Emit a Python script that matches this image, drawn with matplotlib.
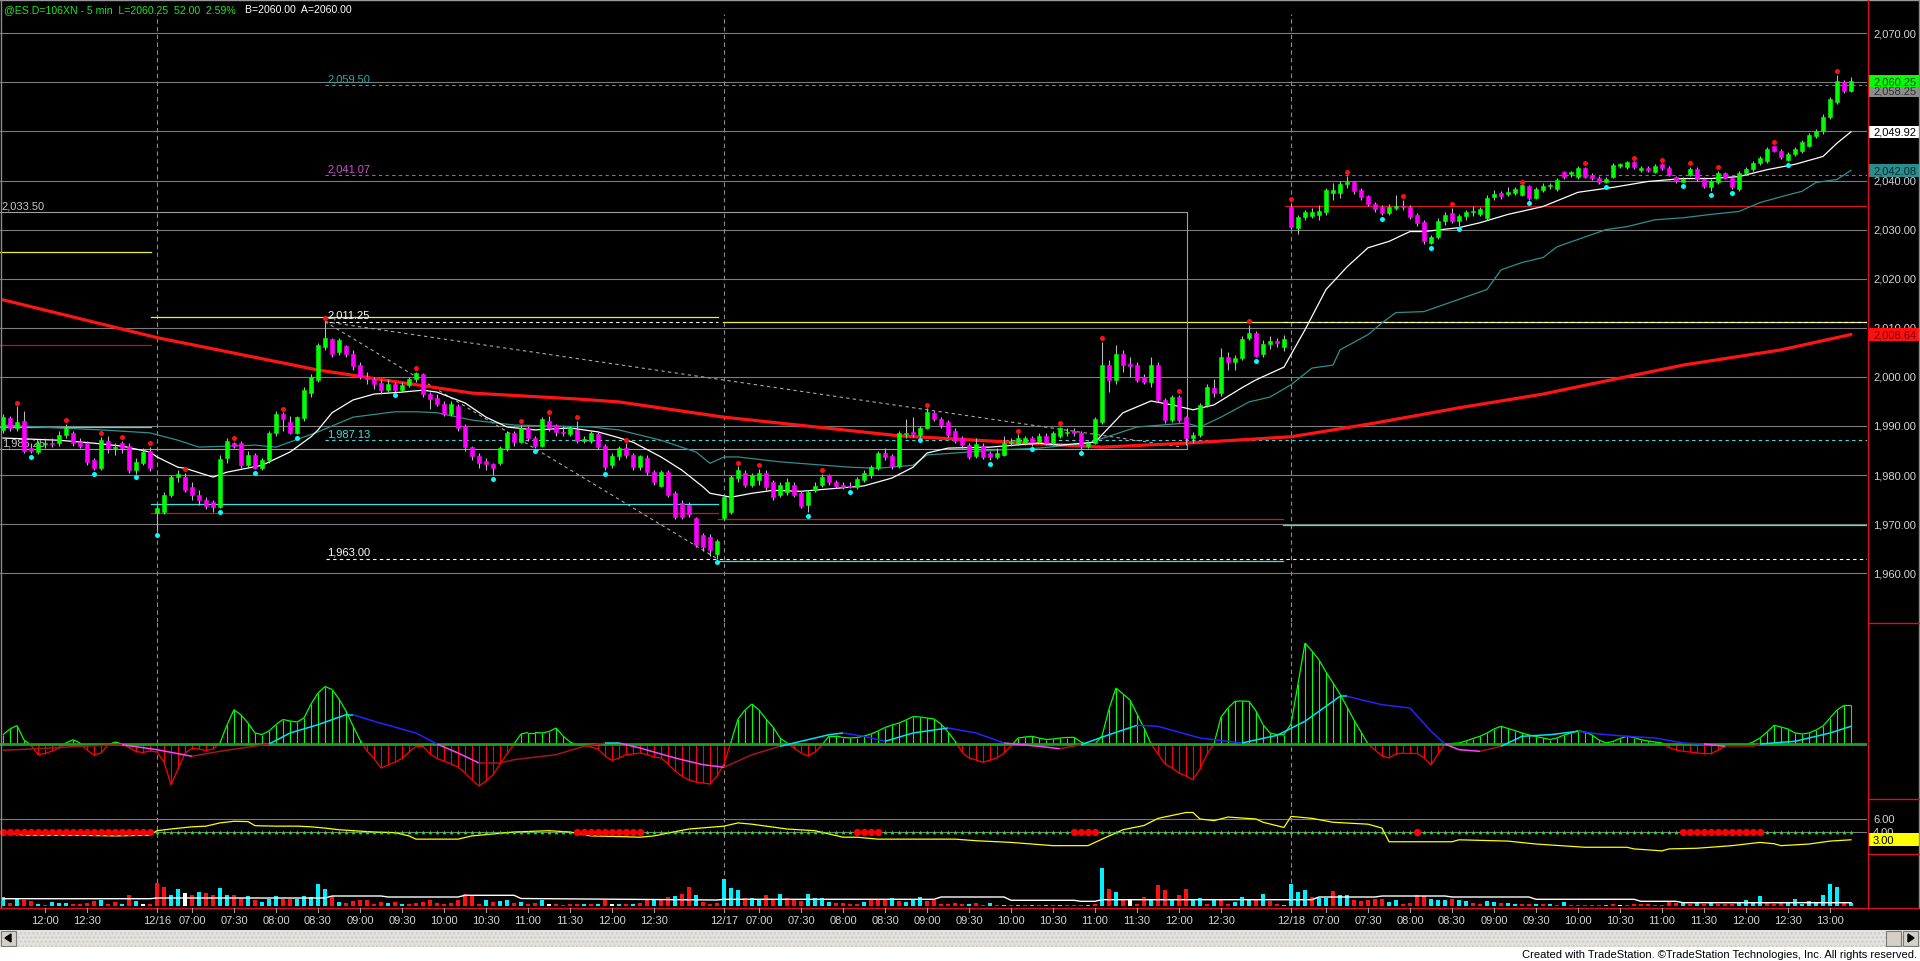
import matplotlib
matplotlib.use("Agg")
import matplotlib.pyplot as plt
import numpy as np
from matplotlib.collections import LineCollection
from matplotlib.patches import Rectangle
from matplotlib.transforms import blended_transform_factory

plt.rcParams['font.family'] = ['Liberation Sans', 'DejaVu Sans']

# ---------------- data (5-min bars, ES) ----------------
# (open, high, low, close)
ohlc_1215 = [
    (1989.2,1992.5,1988.5,1991.8),(1991.6,1992.0,1989.0,1989.6),(1989.6,1994.0,1989.0,1990.8),
    (1991.0,1993.0,1984.5,1985.0),(1985.5,1986.5,1984.5,1985.0),(1984.7,1987.0,1984.3,1986.5),
    (1986.3,1987.5,1985.5,1986.5),(1986.5,1987.5,1985.8,1986.3),(1986.5,1989.0,1986.0,1988.2),
    (1988.2,1990.5,1987.5,1989.5),(1988.6,1989.0,1986.0,1986.5),(1986.8,1987.5,1985.5,1986.0),
    (1986.5,1987.0,1982.0,1982.6),(1983.0,1983.5,1981.0,1981.4),(1981.5,1987.8,1981.0,1987.1),
    (1987.0,1988.0,1984.5,1985.5),(1985.5,1986.5,1984.0,1985.7),(1986.5,1987.0,1984.5,1985.5),
    (1986.0,1986.5,1980.5,1981.0),(1981.0,1983.5,1980.3,1982.7),(1982.5,1985.5,1982.0,1984.7),
    (1985.0,1985.7,1980.8,1981.4)]
ohlc_1216 = [
    (1972.3,1974.0,1968.5,1973.3),(1972.5,1976.5,1972.0,1976.0),(1976.0,1980.0,1975.5,1979.6),
    (1979.6,1981.0,1978.5,1980.2),(1979.6,1980.5,1976.5,1977.0),(1977.5,1978.5,1975.0,1976.0),
    (1976.0,1977.0,1974.0,1975.0),(1975.0,1975.5,1973.0,1973.8),(1974.5,1975.0,1972.5,1973.5),
    (1973.5,1984.0,1973.2,1983.3),(1983.5,1987.5,1982.5,1987.0),(1986.5,1986.8,1985.5,1986.0),
    (1986.5,1987.0,1981.5,1982.0),(1982.0,1985.0,1981.5,1984.0),(1984.0,1984.5,1981.2,1981.5),
    (1981.5,1983.5,1981.0,1983.0),(1983.0,1989.0,1982.5,1988.5),(1988.5,1993.0,1988.0,1992.5),
    (1992.5,1992.8,1989.0,1991.5),(1990.8,1992.0,1988.3,1988.6),(1988.6,1992.0,1988.3,1991.8),
    (1991.6,1998.0,1991.0,1997.3),(1996.7,2000.5,1996.0,2000.0),(1999.4,2007.0,1999.0,2006.5),
    (2006.0,2011.25,2005.5,2008.0),(2007.7,2008.0,2004.0,2004.7),(2005.0,2008.0,2004.5,2007.5),
    (2006.2,2006.5,2004.0,2004.6),(2004.6,2005.5,2001.5,2002.3),(2002.5,2003.0,1999.5,2000.0),
    (1999.8,2001.0,1998.5,1999.6),(1999.5,2000.0,1997.5,1998.5),(1998.8,1999.5,1996.5,1997.3),
    (1997.3,1999.5,1996.8,1998.5),(1998.5,1999.0,1997.0,1997.3),(1997.3,1999.0,1997.0,1998.4),
    (1998.4,2000.0,1998.0,1999.6),(1999.5,2001.0,1999.0,2000.8),(2000.5,2000.8,1996.0,1996.5),
    (1996.5,1997.0,1993.5,1995.5),(1995.8,1996.5,1994.0,1994.5),(1994.5,1995.0,1992.0,1992.5),
    (1992.5,1995.0,1992.0,1994.5),(1994.0,1994.5,1989.0,1989.6),(1990.0,1990.5,1985.0,1985.7),
    (1985.7,1986.0,1983.0,1983.8),(1983.9,1984.5,1981.5,1982.4),(1982.8,1983.5,1981.0,1982.2),
    (1982.2,1982.5,1980.0,1981.5),(1982.4,1986.0,1982.0,1985.5),(1985.5,1989.0,1985.0,1988.6),
    (1988.6,1989.0,1986.0,1986.8),(1986.8,1990.3,1986.5,1989.5),(1989.5,1990.0,1987.0,1987.5),
    (1987.5,1988.0,1985.6,1986.0),(1986.0,1991.8,1985.8,1991.4),(1991.0,1992.0,1989.0,1989.5),
    (1990.2,1990.5,1988.0,1988.8),(1988.8,1990.0,1988.0,1988.5),(1988.3,1990.0,1988.0,1989.5),
    (1989.2,1991.0,1986.5,1987.0),(1987.0,1988.0,1986.5,1987.3),(1987.0,1989.0,1986.5,1988.5),
    (1988.3,1988.7,1985.3,1985.7),(1986.0,1986.3,1981.0,1981.6),(1982.0,1984.5,1981.5,1983.8),
    (1983.8,1986.0,1983.0,1985.5),(1985.5,1986.5,1983.5,1984.0),(1984.0,1984.5,1981.0,1981.6),
    (1981.6,1984.0,1981.0,1983.8),(1983.5,1984.0,1980.0,1980.6),(1980.6,1981.0,1978.0,1978.6),
    (1977.8,1981.0,1977.5,1980.6),(1980.6,1981.0,1975.5,1975.9),(1976.3,1976.8,1971.0,1971.4),
    (1974.3,1975.0,1971.0,1971.4),(1974.0,1974.5,1971.5,1972.0),(1971.2,1971.5,1965.3,1965.7),
    (1967.8,1968.3,1964.5,1965.3),(1967.3,1968.0,1963.5,1964.7),(1964.0,1967.0,1963.0,1966.5)]
ohlc_1217 = [
    (1971.2,1976.0,1970.8,1975.5),(1972.5,1980.0,1972.0,1979.6),(1979.4,1981.8,1978.5,1981.0),
    (1980.5,1981.0,1977.5,1978.0),(1978.0,1980.5,1977.5,1980.0),(1979.0,1981.3,1978.0,1980.5),
    (1980.5,1981.0,1977.0,1977.5),(1978.6,1979.0,1975.0,1975.5),(1976.0,1978.5,1975.5,1978.0),
    (1976.5,1979.5,1976.0,1978.5),(1978.0,1978.5,1975.5,1976.0),(1976.3,1976.8,1973.2,1973.8),
    (1974.0,1977.0,1972.5,1976.5),(1977.0,1978.5,1976.5,1977.8),(1978.0,1980.2,1977.5,1979.6),
    (1980.0,1980.2,1978.0,1978.5),(1978.5,1979.0,1977.3,1977.8),(1978.0,1978.5,1977.2,1977.6),
    (1977.8,1978.5,1977.3,1977.6),(1977.6,1979.6,1977.2,1979.2),(1979.0,1981.0,1978.5,1980.5),
    (1980.0,1982.0,1979.5,1981.6),(1981.5,1985.0,1981.0,1984.5),(1984.5,1985.5,1983.0,1983.6),
    (1983.8,1984.3,1981.2,1981.8),(1981.8,1989.0,1981.5,1988.6),(1988.3,1991.5,1987.5,1988.6),
    (1988.6,1991.8,1987.8,1988.4),(1988.2,1990.0,1987.8,1989.6),(1989.6,1993.6,1989.3,1992.9),
    (1992.7,1993.0,1991.0,1991.4),(1991.4,1991.8,1989.5,1990.2),(1990.8,1991.2,1987.8,1988.2),
    (1989.0,1989.5,1986.5,1987.0),(1987.6,1988.0,1985.5,1986.1),(1986.1,1986.6,1983.2,1983.7),
    (1983.9,1987.5,1983.5,1986.3),(1986.0,1986.5,1983.3,1983.7),(1984.5,1985.0,1983.0,1983.6),
    (1983.6,1985.5,1983.2,1984.6),(1984.0,1988.0,1983.8,1986.5),(1986.5,1987.5,1986.0,1986.8),
    (1986.6,1988.3,1986.2,1987.5),(1986.6,1988.0,1986.2,1987.6),(1987.6,1988.0,1986.0,1986.8),
    (1986.8,1988.5,1986.5,1988.0),(1988.0,1988.5,1986.2,1986.5),(1986.5,1989.0,1986.2,1988.5),
    (1988.0,1989.8,1987.5,1989.5),(1988.5,1989.5,1988.0,1988.8),(1988.8,1989.6,1988.0,1988.6),
    (1988.6,1989.0,1985.2,1986.0),(1986.0,1987.0,1985.5,1986.5),(1986.5,1991.8,1986.3,1991.4),
    (1990.8,2007.2,1990.5,2002.4),(2002.4,2003.5,1997.0,1999.4),(1999.4,2006.5,1998.5,2004.7),
    (2004.7,2005.5,2001.0,2002.4),(2002.4,2004.0,2000.0,2002.3),(2002.4,2003.0,1999.0,1999.4),
    (2000.0,2000.5,1998.5,1999.0),(1999.0,2004.0,1998.0,2002.4),(2002.4,2003.0,1994.8,1995.3),
    (1995.3,1995.8,1990.6,1991.2),(1991.2,1996.3,1990.8,1996.0),(1996.0,1996.4,1990.8,1991.2),
    (1991.8,1992.0,1986.2,1987.5),(1987.5,1988.8,1986.5,1988.2),(1988.2,1994.6,1987.8,1994.3),
    (1994.3,1998.5,1993.8,1998.0),(1997.8,1999.5,1996.0,1996.7),(1996.7,2005.8,1996.2,2004.0),
    (2004.0,2005.0,2001.5,2003.0),(2003.0,2004.5,2001.5,2003.8),(2003.9,2008.3,2003.5,2007.8),
    (2008.0,2010.6,2007.5,2009.0),(2009.0,2009.3,2004.0,2004.3),(2004.7,2007.5,2004.0,2006.6),
    (2006.6,2008.3,2005.7,2007.3),(2007.2,2008.0,2006.0,2007.0),(2006.0,2008.5,2005.3,2007.8)]
ohlc_1218 = [
    (2034.7,2035.5,2030.2,2030.6),(2030.3,2033.0,2029.2,2032.6),(2032.6,2034.0,2032.0,2033.6),
    (2032.8,2034.4,2032.3,2033.6),(2033.0,2035.0,2032.0,2033.7),(2033.5,2038.5,2033.0,2038.0),
    (2037.5,2039.5,2036.0,2038.0),(2037.5,2040.0,2036.5,2039.2),(2039.2,2041.0,2038.5,2039.7),
    (2039.6,2040.0,2037.3,2037.8),(2038.0,2038.5,2036.0,2036.6),(2036.8,2037.0,2034.8,2035.3),
    (2035.3,2035.6,2033.6,2034.2),(2034.7,2035.0,2033.0,2033.3),(2033.3,2035.2,2033.0,2034.7),
    (2034.5,2037.0,2034.0,2034.7),(2034.9,2036.0,2034.0,2034.6),(2034.7,2035.0,2032.2,2032.6),
    (2033.0,2033.3,2030.8,2031.3),(2031.6,2032.0,2027.0,2027.6),(2027.3,2029.0,2027.0,2028.5),
    (2028.4,2032.3,2028.0,2031.8),(2031.7,2033.5,2031.0,2033.0),(2033.3,2034.4,2031.3,2031.8),
    (2031.8,2033.2,2030.8,2032.8),(2032.7,2034.0,2032.0,2033.5),(2033.5,2034.8,2032.8,2033.6),
    (2033.2,2034.6,2032.8,2034.2),(2032.4,2037.0,2032.0,2036.5),(2036.7,2038.0,2036.0,2037.3),
    (2037.4,2037.8,2036.3,2036.8),(2037.2,2038.7,2036.8,2037.6),(2037.4,2038.6,2037.0,2038.3),
    (2037.0,2039.0,2036.8,2039.0),(2038.8,2039.0,2036.1,2036.5),(2036.4,2038.6,2036.2,2038.2),
    (2038.0,2039.5,2037.7,2038.9),(2038.8,2039.4,2038.2,2038.9),(2038.2,2040.6,2037.9,2040.2),
    (2041.7,2042.0,2040.3,2040.8),(2041.4,2042.0,2040.8,2041.6),(2040.8,2042.9,2040.4,2042.6),
    (2042.6,2042.8,2040.5,2040.8),(2041.2,2041.6,2040.2,2040.6),(2040.6,2041.0,2039.2,2039.6),
    (2039.6,2040.8,2039.4,2040.4),(2040.8,2043.5,2040.5,2043.2),(2043.0,2043.6,2042.6,2043.2),
    (2042.7,2044.0,2042.4,2043.7),(2043.8,2043.9,2042.4,2042.8),(2042.2,2043.0,2041.8,2042.4),
    (2042.3,2043.0,2041.8,2042.2),(2041.8,2043.3,2041.5,2043.0),(2043.3,2043.5,2042.2,2042.5),
    (2042.6,2042.9,2040.9,2041.2),(2040.8,2041.0,2039.5,2039.8),(2039.6,2040.8,2039.6,2040.4),
    (2041.2,2042.8,2040.9,2042.4),(2042.4,2042.8,2040.0,2040.4),(2040.4,2040.7,2038.5,2038.9),
    (2038.7,2040.4,2037.8,2039.8),(2039.6,2042.0,2039.3,2041.6),(2041.6,2041.8,2040.3,2040.6),
    (2040.6,2040.9,2038.3,2038.6),(2038.2,2042.0,2037.8,2041.6),(2041.6,2042.8,2041.2,2042.4),
    (2042.4,2044.0,2042.0,2043.6),(2043.6,2045.0,2043.2,2044.5),(2043.9,2046.8,2043.5,2046.5),
    (2047.0,2047.0,2045.8,2046.1),(2046.1,2046.4,2044.4,2044.8),(2044.2,2045.8,2044.0,2045.4),
    (2045.4,2046.8,2045.0,2046.4),(2046.0,2048.2,2045.7,2047.8),(2047.1,2049.6,2046.8,2049.2),
    (2049.0,2050.5,2048.7,2050.0),(2050.0,2053.5,2049.5,2052.9),(2053.0,2057.0,2052.5,2056.5),
    (2056.0,2061.5,2055.5,2060.2),(2060.0,2060.5,2057.8,2058.25),(2058.25,2061.0,2058.0,2060.25)]

# swing markers (bar indices)
swing_high_idx = [2,9,14,17,21,26,33,40,46,59,74,78,82,89,105,108,117,132,145,151,157,168,178,
                  184,192,200,207,217,226,233,237,241,245,253,262]
swing_low_idx = [4,13,19,22,31,36,42,56,70,76,86,102,115,121,131,141,147,154,179,197,204,208,
                 218,229,240,244,247,255]

# moving averages on price (bar index, value)
red_ma_idx = [0,22,45,67,82,88,103,128,144,157,169,184,196,208,220,225,240,254,264]
red_ma_val = [2015.7,2008.0,2001.4,1996.7,1995.5,1994.9,1991.8,1988.0,1986.7,1985.7,1986.5,1987.8,
              1990.6,1993.7,1996.5,1998.0,2002.4,2005.5,2008.64]
white_ma_idx = [0,8,13,17,21,22,25,26,30,32,37,41,44,45,47,50,53,57,60,62,66,69,72,76,81,85,88,90,
                94,97,100,101,104,107,110,114,119,123,127,130,132,135,141,148,151,156,160,164,167,
                170,173,177,179,183,186,189,192,195,198,201,203,208,211,215,220,225,230,235,240,
                244,248,252,256,260,262,264]
white_ma_val = [1987.55,1987.1,1986.5,1985.9,1984.7,1983.7,1981.6,1981.4,1979.6,1980.6,1982.0,1984.7,
                1987.8,1989.2,1992.7,1995.3,1996.5,1996.9,1997.3,1996.9,1994.7,1991.8,1989.8,1989.2,
                1989.6,1988.8,1987.6,1986.7,1983.7,1981.0,1977.6,1976.3,1975.5,1976.3,1976.9,1976.7,
                1977.3,1977.8,1979.4,1981.6,1984.5,1985.5,1985.7,1986.5,1986.1,1986.7,1992.7,1995.1,
                1994.3,1993.3,1994.3,1997.8,1999.4,2002.0,2009.6,2017.8,2022.4,2026.3,2027.6,2029.6,
                2029.6,2030.4,2031.4,2033.1,2034.7,2037.6,2038.6,2039.8,2040.4,2040.4,2040.8,2042.2,
                2043.3,2044.9,2047.6,2049.92]
teal_idx = [0,8,14,21,25,28,36,39,45,48,50,56,59,62,67,73,84,88,94,99,101,103,105,111,121,125,130,
            132,138,142,148,155,162,169,171,174,178,181,184,187,190,191,195,197,199,203,205,209,212,
            214,217,220,222,225,229,232,236,240,244,248,251,254,257,259,262,264]
teal_val = [1990.2,1989.6,1989.2,1988.6,1987.1,1985.7,1986.1,1985.7,1988.8,1990.6,1991.8,1992.9,
            1992.9,1992.7,1991.2,1990.2,1989.8,1989.2,1987.1,1984.7,1982.4,1983.7,1983.7,1982.7,
            1981.6,1981.4,1982.0,1984.1,1984.7,1985.1,1985.5,1986.5,1989.8,1990.6,1989.8,1991.8,
            1994.9,1995.9,1998.4,2001.8,2002.4,2005.5,2008.6,2011.0,2013.1,2013.3,2014.3,2016.3,
            2017.8,2021.8,2023.3,2024.3,2026.5,2028.0,2030.0,2030.6,2032.0,2032.4,2033.1,2033.7,
            2035.5,2036.7,2037.8,2039.6,2040.2,2042.08]

# oscillator histogram, one value per bar
macd_1215 = [9.3,15,18.5,4,-1,-10.7,-9.5,-7,-4,1,4.3,1,-6,-11,-9,-1,2,0,-3.5,-7.5,-8.5,-7]
macd_1216 = [-8,-18,-40.7,-25,-9,-4.5,-5,-6.5,-5,1,19,34.3,29,21,11,9.5,13,19.5,24.5,23,
             22,26,40,51,57.5,54.5,45,33,18,4,-7,-14.5,-24,-21,-18,-14.5,-8,-2.3,-2.3,-10,
             -14.5,-17,-20,-23,-29,-36,-42,-37,-31,-20,-10,0,10,11.5,11.5,11,12.5,16,8,2,
             -1,-1.7,-3,-5,-12,-16.5,-14,-10.7,-10,-9,-10.5,-13,-14,-20,-27,-32.3,-36,-38,-39,-40,-32]
macd_1217 = [-20,2,25,34,40,34,25,17,6,1,-4,-9,-12,-8,-1,8,8,6.5,6,6.5,
             8,10,13,16.5,19,21,24,27.5,27,26,25,20,12,3,-8,-14,-16,-18.3,-16,-14,
             -9,-2,6,7,7.7,6,4.5,5,6,6.5,6.7,2,-1,0,8,35,56,50,44,30,
             16,0,-10,-20,-24,-29,-32,-35.7,-25,-10,0,27,36,42.7,43,42.7,33,19.3,11,9.3,9.5]
macd_1218 = [20,60,101,93,84,72,61,50,37,24,12,0,-6,-12,-14,-10,-9,-9,-9,-14,
             -20.7,-10,0,0.5,1,3,5.5,7.7,11,15,17.7,15.5,13.5,11,9,7.5,6,4.5,6,9,
             11,13.3,12,9,4,1,2.5,5.5,7.7,6.5,4.3,3,2,1,-3.5,-6,-7.3,-8,-9,-9.5,
             -9.7,-6,-2,0,-0.5,-0.7,2,6,12,18.7,17,15,11,10,11,14,18,26,34,38.7,38.7]
signal_idx = [0,5,11,17,22,27,31,38,41,45,49,50,53,59,62,65,68,71,73,79,83,86,88,91,96,100,103,107,
              111,114,118,120,123,126,130,135,139,143,148,151,154,158,162,165,171,177,182,186,191,
              192,197,201,204,206,208,211,214,217,221,225,228,232,236,240,243,246,250,251,256,261,264]
signal_val = [-6.3,-4.7,-2.3,-0.7,-5.7,-12.3,-7.3,0,11,19.3,29.3,29.3,22.7,11,0,-9,-19,-19,-15.7,-10.7,
              -2.3,1,1,-4,-14,-20.7,-23.3,-10.7,-2.3,2.7,9.3,11,7.7,2.7,11,16,11,1,-2.3,-4.7,
              -0.7,9.3,18.7,17.7,6,1,8.7,22.7,47.7,47.7,39.3,36,12.7,0,-5.7,-7.3,-2.3,7.7,9.3,12.7,
              10,7.7,6,1,0,-2.3,-2.3,0,2.7,11,17.7]

# trend-state panel
state_red_runs = [(0,21),(82,91),(122,125),(153,156),(202,202),(240,251)]
state_level = 4.0
yellow_idx = [0,3,10,16,21,22,24,27,29,31,33,35,36,39,42,44,46,48,50,53,56,58,59,65,67,70,73,78,81,84,
              88,91,93,96,98,103,105,107,112,116,118,120,122,125,129,136,139,144,147,150,155,157,160,
              163,165,169,170,171,173,175,179,180,183,184,187,190,195,197,198,207,208,215,219,226,232,
              233,237,238,242,247,251,253,254,258,261,264]
yellow_val = [4.0,3.5,3.5,3.4,3.5,4.2,4.46,4.8,4.9,5.4,5.65,5.6,4.97,4.9,4.9,4.8,4.6,4.35,4.2,4.0,
              3.9,3.4,2.9,2.9,3.4,3.7,4.0,4.2,4.0,3.4,3.3,3.2,3.4,4.05,4.46,4.9,5.4,5.2,4.46,4.2,
              3.7,3.2,3.2,2.9,2.9,2.9,2.66,2.4,2.15,1.9,1.9,2.9,4.35,5.0,6.1,7.0,7.0,6.0,5.75,6.3,
              6.0,5.5,4.7,6.4,6.1,5.5,5.2,4.6,2.5,2.5,2.8,2.6,2.15,1.65,1.65,1.4,1.1,1.4,1.5,1.9,
              2.4,2.2,1.9,2.15,2.6,2.8]

# volume (thousands) with up/down colour code
vol_1215 = [9,3.3,7.3,5.7,4.7,2.3,1.3,4,3,3.3,1.7,2.3,3.3,4.7,6.3,1.7,4,2.3,11.3,4.7,1.7,2.3]
volc_1215 = "crcrrcrcccrrrrcrrcrcwr"
vol_1216 = [23.3,19,10.7,17.3,13.3,11.3,14,13.3,11.3,18, 11.3,10.7,8,10,5.7,4,6.7,10,7.3,6.7,
            6.7,10,9,22.3,17.3,10,4,3,4.7,5.7, 6.3,2.3,4,3,4,2.3,1.7,3,4,6.3,
            3,2.3,3.3,6.3,12.3,10,2.3,6.3,4,4.7, 6.3,3,4,2.3,3,5.7,2.3,1.7,1.3,2.3,
            1.7,1.7,2,1.7,5.7,1.7,2.3,2.3,1.7,3.3, 5.7,7.3,7.3,9,10,12.3,19,10.7,4,2.3, 3]
volc_1216 = "rrccwrcrrc" "crrcrcccrr" "cccccrcrrr" "rrrcrcrrrr" "rrrrrrrcrc" "crcrrcwrrr" "rcrcrwcrcr" "rcrrcrrcrr" "r"
vol_1217 = [26.7,18,15.7,8.3,8,6.7,10.7,7.3,12.3,8, 5.7,4.7,12.3,8,8,4,3.3,3.3,1.7,1.7,
            4,5.7,5.7,7.3,8,4.7,4,5.7,9,4.7, 5.7,2.3,1.7,3.3,1.7,2.3,3,1.3,3,1.3,
            1.3,1,1,1,1,1,1,1,1,1, 1,1.3,1.3,1.7,38.3,17.3,14,7.3,5.7,2.3,
            9,7.3,21.3,15.7,7.3,10.7,17.3,7.3,8,2.3, 7.3,7.3,2.3,4,9,7.3,5.7,12.3,4.7,2.3, 1.3]
volc_1217 = "cccrccrrcr" "rrccccrrrr" "crrrcrcccr" "rrrrrcrrcr" "crcrcrcrcr" "rrcrcrcrwr" "rcrrcrrccr" "crrcccrcrr" "c"
vol_1218 = [22.3,14,15.7,9,8,8,14.7,11.3,10.7,5.7, 4.7,5.7,6.7,7.3,4,5.7,2.3,3.3,10.7,10,
            7.3,6.3,5.7,7.3,5.7,4.7,3,2.3,4.7,4, 3,3,2.3,1.7,1.7,2.3,1.7,1.7,1.3,4,
            1.3,1.3,1.3,1.3,1.3,1.3,1.7,1.3,1.3,1.7, 1.7,1.7,1.3,1.3,4,3.3,3.3,2.3,4,2.3,
            4,2.3,2.3,2.3,4,5.7,4,10,3.3,2.3, 3.3,4,6.7,2.3,4.7,4,10.7,22.3,19,3.3, 3.3]
volc_1218 = "cccrccrccr" "rrrrccrrrr" "cccrccrrcc" "rccrrcrcrc" "rrrrrcrwrr" "rrrrrrcrcr" "crrrccccrr" "rccccccccr" "c"
vol_ma_idx = [0,21,22,46,47,54,55,65,66,73,74,102,103,133,134,143,144,153,154,156,157,187,188,196,
              197,206,207,218,219,233,234,239,240,264]
vol_ma_val = [7.3,7.3,8,8,10,10,9,9,10.7,10.7,7.5,6,6.7,6.7,9,9,5.7,5.7,4.7,4.7,6.3,6.3,9,9,10,10,
              9,9,6.7,6.7,4.7,4.7,3.3,3.3]

# time axis
session_starts = [22, 103, 184]
time_ticks = [(6,'12:00'),(12,'12:30'),(22,'12/16'),(27,'07:00'),(33,'07:30'),(39,'08:00'),(45,'08:30'),
              (51,'09:00'),(57,'09:30'),(63,'10:00'),(69,'10:30'),(75,'11:00'),(81,'11:30'),(87,'12:00'),
              (93,'12:30'),(103,'12/17'),(108,'07:00'),(114,'07:30'),(120,'08:00'),(126,'08:30'),
              (132,'09:00'),(138,'09:30'),(144,'10:00'),(150,'10:30'),(156,'11:00'),(162,'11:30'),
              (168,'12:00'),(174,'12:30'),(184,'12/18'),(189,'07:00'),(195,'07:30'),(201,'08:00'),
              (207,'08:30'),(213,'09:00'),(219,'09:30'),(225,'10:00'),(231,'10:30'),(237,'11:00'),
              (243,'11:30'),(249,'12:00'),(255,'12:30'),(261,'13:00')]
price_grid = [1960,1970,1980,1990,2000,2010,2020,2030,2040,2050,2060,2070]

# drawn horizontal objects: (price, start bar, end bar, colour, dashed)
h_objects = [
    (2025.4, -1, 21.1, '#eeee44', False), (2006.5, -1, 21.1, '#b81818', False),
    (1989.8, -1, 21.1, '#40e0e0', False),
    (2012.1, 21.1, 102.1, '#eeee44', False), (2011.25, 46.5, 102.1, '#ffffff', True),
    (2011.1, 102.9, 270, '#eeee44', False), (2011.1, 183.0, 270, '#ffffff', True),
    (1974.1, 21.1, 102.1, '#40e0e0', False), (1972.3, 21.1, 102.1, '#c81818', False),
    (1971.0, 102.1, 182.9, '#c81818', False), (1963.0, 46.1, 270, '#ffffff', True),
    (1962.5, 102.1, 182.9, '#40e0e0', False), (1969.8, 182.9, 270, '#40e0e0', False),
    (2034.8, 183.1, 270, '#d81818', False),
    (1987.13, 46.0, 270, '#40e0e0', True), (2041.07, 46.0, 270, '#c848c8', True),
    (2059.5, 46.0, 270, '#30a8a8', True)]
h_labels = [(2059.5, '2,059.50', '#30a8a8'), (2041.07, '2,041.07', '#d050d0'),
            (2011.25, '2,011.25', '#ffffff'), (1987.13, '1,987.13', '#40e0e0'),
            (1963.0, '1,963.00', '#ffffff')]
box_top, box_bottom, box_right = 2033.5, 1985.25, 169.1
trend_lines = [((46, 2011.25), (102, 1963.0)), ((46, 2011.25), (168, 1985.8))]

# ---------------- figure ----------------
W, H = 1920, 962
fig = plt.figure(figsize=(W / 100, H / 100), dpi=100, facecolor='black')


def px_axes(x0, y0, x1, y1):
    ax = fig.add_axes([x0 / W, 1 - y1 / H, (x1 - x0) / W, (y1 - y0) / H])
    ax.set_axis_off()
    return ax


ohlc = np.array(ohlc_1215 + ohlc_1216 + ohlc_1217 + ohlc_1218, dtype=float)
o, hi, lo, cl = ohlc.T
n = len(ohlc)
idx = np.arange(n)
XL = (-3 / 7, (1867 - 3) / 7)
PX_PER_PT = 4.91
P_TOP = 2070 + 34.2 / PX_PER_PT
P_BOT = 2070 - (623 - 34.2) / PX_PER_PT
GRID = '#7c7c7c'
TXT = '#d4d4d4'
FS = 8

# ---- price panel ----
axp = px_axes(0, 0, 1867, 623)
axp.set_xlim(XL)
axp.set_ylim(P_BOT, P_TOP)
for g in price_grid:
    axp.axhline(g, color=GRID, lw=0.8, zorder=0.5)
for s in session_starts:
    axp.axvline(s, ymin=0, ymax=1 - 15 / 623, color='#8c8c8c', lw=0.8, ls=(0, (4, 3)), zorder=0.6)
for (p, a, b, col, dashed) in h_objects:
    axp.plot([a, b], [p, p], color=col, lw=0.9 if not dashed else 0.8,
             ls=(0, (3, 3)) if dashed else '-', zorder=1)
# rectangle object
axp.plot([-1, box_right, box_right, -1], [box_top, box_top, box_bottom, box_bottom],
         color='#a0a0a0', lw=0.8, zorder=1)
axp.text(-0.2, box_top + 0.3, '2,033.50', color='#c8c8c8', fontsize=FS, va='bottom', ha='left', zorder=1.5)
axp.text(-0.2, box_bottom + 0.4, '1,985.25', color='#c8c8c8', fontsize=FS, va='bottom', ha='left', zorder=1.5)
for (p0, p1) in trend_lines:
    axp.plot([p0[0], p1[0]], [p0[1], p1[1]], color='#a8a8a8', lw=0.8, ls=(0, (3, 3)), zorder=1)
for (p, s, col) in h_labels:
    axp.text(46.3, p + 0.35, s, color=col, fontsize=FS, va='bottom', ha='left', zorder=1.5)

axp.plot(red_ma_idx, red_ma_val, color='#ff1414', lw=2.3, zorder=2, solid_capstyle='round')
axp.plot(teal_idx, teal_val, color='#2f8f8f', lw=0.9, zorder=2.2)
axp.plot(white_ma_idx, white_ma_val, color='#ffffff', lw=0.9, zorder=2.4)

cols = np.where(cl >= o, '#00ff00', '#ff00ff')
axp.vlines(idx, lo, hi, color='#b8b8b8', lw=0.8, zorder=4)
body_bot = np.minimum(o, cl)
body_h = np.maximum(np.abs(cl - o), 0.28)
axp.bar(idx, body_h, bottom=body_bot, width=0.7, color=cols, edgecolor=cols, lw=0.4, zorder=5)
sh = np.array(swing_high_idx)
sl = np.array(swing_low_idx)
axp.plot(sh, hi[sh] + 0.75, 'o', color='#ff1010', ms=3.6, mew=0, zorder=6)
axp.plot(sl, lo[sl] - 0.75, 'o', color='#00ffff', ms=3.6, mew=0, zorder=6)

# right price scale
axr = px_axes(1867, 0, 1920, 623)
axr.set_xlim(0, 53)
axr.set_ylim(P_BOT, P_TOP)
for g in price_grid:
    axr.text(6, g, f"{g:,.2f}", color=TXT, fontsize=FS, va='center', ha='left', zorder=1)
bh = 12.5 / PX_PER_PT
last_boxes = [(2058.25, '#8c8c8c', '#303030'), (2060.25, '#00ff00', '#303030'),
              (2049.92, '#ffffff', '#000000'), (2042.08, '#2a8c8c', '#0c2c2c'),
              (2008.64, '#ff1010', '#7a0000')]
for (v, fc, tc) in last_boxes:
    axr.add_patch(Rectangle((2, v - bh / 2), 50, bh, facecolor=fc, edgecolor='none', zorder=2))
    axr.text(6, v, f"{v:,.2f}", color=tc, fontsize=FS, va='center', ha='left', zorder=3)

# ---- oscillator panel ----
axm = px_axes(0, 623, 1867, 799)
axm.set_xlim(XL)
axm.set_ylim(-54, 122)
hist = np.array(macd_1215 + macd_1216 + macd_1217 + macd_1218, dtype=float)
m = min(len(hist), n)
hist = hist[:m]
hx = idx[:m]
for s in session_starts:
    axm.axvline(s, color='#8c8c8c', lw=0.8, ls=(0, (4, 3)), zorder=0.6)
pos = hist >= 0
axm.vlines(hx[pos], 0, hist[pos], color='#00ff00', lw=0.8, zorder=2)
axm.vlines(hx[~pos], hist[~pos], 0, color='#ff0000', lw=0.8, zorder=2)
seg_p, seg_n = [], []
for k in range(m - 1):
    x0, x1, y0, y1 = hx[k], hx[k + 1], hist[k], hist[k + 1]
    if y0 >= 0 and y1 >= 0:
        seg_p.append([(x0, y0), (x1, y1)])
    elif y0 <= 0 and y1 <= 0:
        seg_n.append([(x0, y0), (x1, y1)])
    else:
        xc = x0 + (x1 - x0) * y0 / (y0 - y1)
        a, b = [(x0, y0), (xc, 0)], [(xc, 0), (x1, y1)]
        if y0 > 0:
            seg_p.append(a); seg_n.append(b)
        else:
            seg_n.append(a); seg_p.append(b)
axm.add_collection(LineCollection(seg_p, colors='#00ff00', linewidths=0.9, zorder=2.5))
axm.add_collection(LineCollection(seg_n, colors='#ff0000', linewidths=0.9, zorder=2.5))
axm.axhline(0, color='#1f9f1f', lw=2.0, zorder=3)
sig_segs, sig_cols = [], []
for k in range(len(signal_idx) - 1):
    v0, v1 = signal_val[k], signal_val[k + 1]
    mid = (v0 + v1) / 2
    rising = v1 >= v0
    if mid >= 0:
        col = '#00e0ff' if rising else '#2424ff'
    else:
        col = '#a01818' if rising else '#ff44ff'
    sig_segs.append([(signal_idx[k], v0), (signal_idx[k + 1], v1)])
    sig_cols.append(col)
axm.add_collection(LineCollection(sig_segs, colors=sig_cols, linewidths=1.1, zorder=4))

# ---- trend-state panel ----
D_TOP = 4 + 34 / 6.5
D_BOT = 4 - 21 / 6.5
axd = px_axes(0, 799, 1867, 854)
axd.set_xlim(XL)
axd.set_ylim(D_BOT, D_TOP)
axd.axhline(6, color=GRID, lw=0.8, zorder=0.5)
axd.axhline(4, color=GRID, lw=0.8, zorder=0.5)
for s in session_starts:
    axd.axvline(s, color='#8c8c8c', lw=0.8, ls=(0, (4, 3)), zorder=0.6)
axd.plot(yellow_idx, yellow_val, color='#ffff00', lw=0.9, zorder=2)
red_mask = np.zeros(n, dtype=bool)
for a, b in state_red_runs:
    red_mask[a:b + 1] = True
axd.plot(idx[~red_mask], np.full((~red_mask).sum(), state_level), '^', color='#00ff00', ms=2.6, mew=0, zorder=3)
axd.plot(idx[red_mask], np.full(red_mask.sum(), state_level), 'o', color='#ff0000', ms=5.2, mew=0, zorder=3)

axdr = px_axes(1867, 799, 1920, 854)
axdr.set_xlim(0, 53)
axdr.set_ylim(D_BOT, D_TOP)
for v in (6.0, 4.0):
    axdr.text(6, v, f"{v:.2f}", color=TXT, fontsize=FS, va='center', ha='left', zorder=1)
yl = yellow_val[-1]
axdr.add_patch(Rectangle((2, yl - 1.0), 50, 2.0, facecolor='#ffff00', edgecolor='none', zorder=2))
axdr.text(6, yl, "3.00", color='#000000', fontsize=FS, va='center', ha='left', zorder=3)

# ---- volume panel ----
axv = px_axes(0, 854, 1867, 907)
axv.set_xlim(XL)
axv.set_ylim(0, 53)
vol = np.array(vol_1215 + vol_1216 + vol_1217 + vol_1218, dtype=float)
vcode = volc_1215 + volc_1216 + volc_1217 + volc_1218
cmap = {'c': '#00f0ff', 'r': '#ff1010', 'w': '#ffffff'}
mv = min(len(vol), len(vcode), n)
for s in session_starts:
    axv.axvline(s, color='#8c8c8c', lw=0.8, ls=(0, (4, 3)), zorder=0.6)
axv.bar(idx[:mv], vol[:mv], width=0.6, color=[cmap[ch] for ch in vcode[:mv]], lw=0, zorder=2)
axv.plot(vol_ma_idx, vol_ma_val, color='#ffffff', lw=1.0, zorder=3)

# ---- chrome overlay ----
ov = fig.add_axes([0, 0, 1, 1])
ov.set_axis_off()
ov.set_xlim(0, W)
ov.set_ylim(H, 0)
ov.plot([0, W], [0.7, 0.7], color='#9a9a9a', lw=1)
ov.plot([1.2, 1.2], [0, 909], color='#8a8a8a', lw=1)
ov.plot([1867.5, 1867.5], [0, 909], color='#e01010', lw=1)
ov.plot([1918.5, 1918.5], [0, 909], color='#8a8a8a', lw=1)
for yy in (623.5, 799.5, 854.5):
    ov.plot([1867.5, W], [yy, yy], color='#e01010', lw=1)
ov.plot([0, W], [908.5, 908.5], color='#e01010', lw=1)

trans = blended_transform_factory(axv.transData, ov.transData)
for (i, lab) in time_ticks:
    ov.plot([i, i], [909, 913], color='#a0a0a0', lw=0.8, transform=trans)
    ov.text(i, 921, lab, color=TXT, fontsize=FS, ha='center', va='center', transform=trans)

# header
ov.text(4, 10, "@ES.D=106XN - 5 min  L=2060.25  52.00  2.59%", color='#1ee81e', fontsize=7.55,
        ha='left', va='center')
ov.text(245, 10, "B=2060.00  A=2060.00", color='#ffffff', fontsize=7.55, ha='left', va='center')

# scrollbar
ov.add_patch(Rectangle((0, 930.5), W, 17, facecolor='#e4e2de', edgecolor='#cfccc6', hatch='....', lw=0))
ov.add_patch(Rectangle((1, 931.5), 15, 15, facecolor='#d4d0c8', edgecolor='#7a7a7a', lw=0.8))
ov.fill([5, 11, 11], [939, 935, 943], color='black')
ov.add_patch(Rectangle((1886, 931.5), 15, 15, facecolor='#d4d0c8', edgecolor='#7a7a7a', lw=0.8))
ov.add_patch(Rectangle((1903, 931.5), 15, 15, facecolor='#d4d0c8', edgecolor='#7a7a7a', lw=0.8))
ov.fill([1914, 1908, 1908], [939, 935, 943], color='black')
# footer
ov.add_patch(Rectangle((0, 948), W, 14, facecolor='white', edgecolor='none'))
ov.text(1917, 955.5, "Created with TradeStation. \u00a9TradeStation Technologies, Inc. All rights reserved.",
        color='black', fontsize=FS, ha='right', va='center')

fig.savefig('out.png', dpi=100, facecolor='black')
